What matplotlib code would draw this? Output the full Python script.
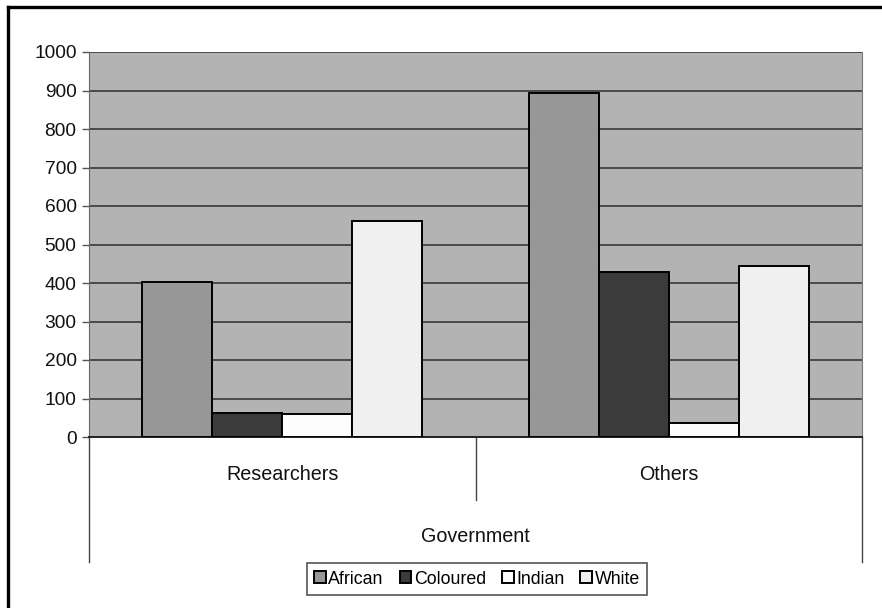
import numpy as np
import matplotlib.pyplot as plt
from matplotlib.lines import Line2D

plt.rcParams['font.family'] = ['Liberation Sans', 'DejaVu Sans']

groups = ["Researchers", "Others"]
sector = "Government"
races = ["African", "Coloured", "Indian", "White"]
values = {
    "African": [403, 893],
    "Coloured": [63, 429],
    "Indian": [60, 36],
    "White": [561, 444],
}
colors = ["#979797", "#3b3b3b", "#fdfdfd", "#f0f0f0"]

W, H = 882, 608
fig = plt.figure(figsize=(W / 100, H / 100), dpi=100)
fig.patch.set_facecolor("white")

# axes placed in pixel terms
left, right, top, bottom = 89, 862, 52, 437
ax = fig.add_axes([left / W, 1 - bottom / H, (right - left) / W, (bottom - top) / H])
ax.set_facecolor("#b3b3b3")

x = np.arange(len(groups))
bw = 0.181
for i, r in enumerate(races):
    ax.bar(x + (i - 1.5) * bw, values[r], width=bw, color=colors[i],
           edgecolor="black", linewidth=1.4, label=r, zorder=3)

ax.set_xlim(-0.5, 1.5)
ax.set_ylim(0, 1000)
ax.set_yticks(np.arange(0, 1001, 100))
ax.tick_params(axis="y", labelsize=13.8, length=5, width=1, color="#555555", pad=4,
               labelcolor="#111111")
ax.set_xticks([])
ax.grid(axis="y", color="#4a4a4a", linewidth=1.4, zorder=1)
ax.set_axisbelow(True)
ax.spines["top"].set_visible(False)
ax.spines["left"].set_color("#666666")
ax.spines["right"].set_color("#777777")
ax.spines["bottom"].set_color("#222222")
ax.spines["bottom"].set_linewidth(1.4)

# category separators below the axis
tr = ax.get_xaxis_transform()
h = bottom - top
for xv, yend in [(-0.5, 562), (0.5, 500), (1.5, 562)]:
    ax.plot([xv, xv], [0, (bottom - yend) / h], transform=tr, color="#444444",
            linewidth=1, clip_on=False)
for xi, g in zip(x, groups):
    ax.text(xi, (bottom - 474) / h, g, transform=tr, ha="center", va="center",
            fontsize=14.2, color="#111111")
ax.text(0.5, (bottom - 536) / h, sector, transform=tr, ha="center", va="center",
        fontsize=14.2, color="#111111")

leg = fig.legend(loc="center", bbox_to_anchor=(477 / W, 1 - 579 / H), ncol=4,
                 fontsize=12.8, frameon=True, fancybox=False, framealpha=1,
                 edgecolor="#555555", handlelength=0.65, handleheight=0.65,
                 handletextpad=0.15, columnspacing=0.9, borderpad=0.4)
leg.get_frame().set_linewidth(1.2)

# outer frame (left and top edges)
fig.add_artist(Line2D([8 / W, 8 / W], [0, 1 - 7 / H], color="black", linewidth=2.4))
fig.add_artist(Line2D([8 / W, 1], [1 - 7 / H, 1 - 7 / H], color="black", linewidth=2.4))

fig.savefig("out.png", dpi=100)
